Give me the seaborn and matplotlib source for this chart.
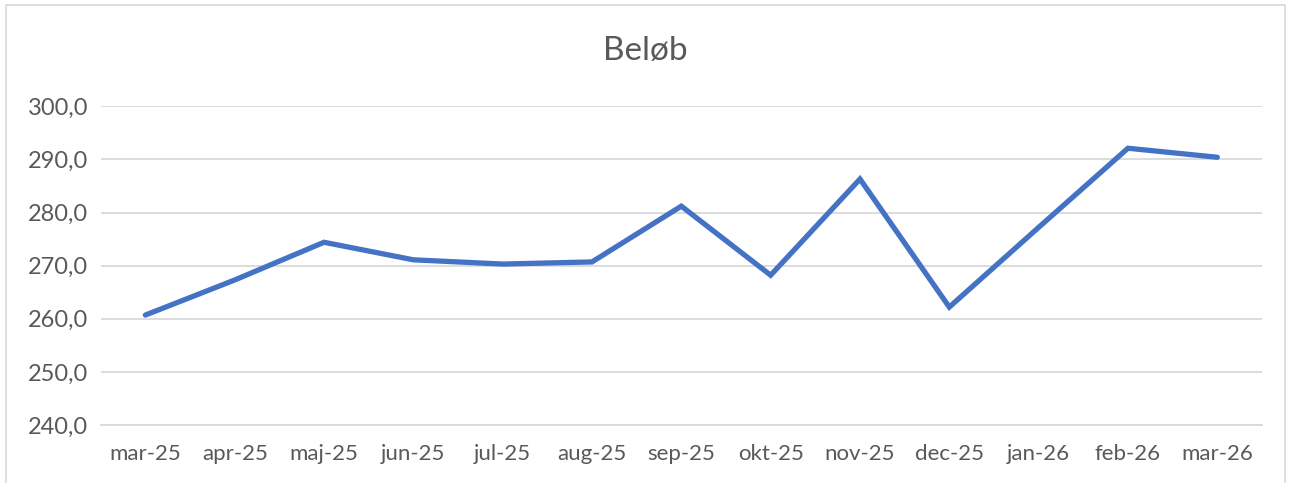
import matplotlib
matplotlib.use("Agg")
import matplotlib.pyplot as plt
import matplotlib.ticker as mticker
import seaborn as sns
import pandas as pd

# Data
months = ['mar-25', 'apr-25', 'maj-25', 'jun-25', 'jul-25', 'aug-25', 'sep-25',
          'okt-25', 'nov-25', 'dec-25', 'jan-26', 'feb-26', 'mar-26']
amounts = [260.7, 267.3, 274.4, 271.1, 270.3, 270.7, 281.2,
           268.2, 286.3, 262.2, 277.2, 292.1, 290.4]

df = pd.DataFrame({'month': months, 'amount': amounts, 'pos': range(len(months))})

sns.set_style('white')
plt.rcParams['font.family'] = ['Lato', 'DejaVu Sans']
grey = '#595959'

fig = plt.figure(figsize=(12.91, 4.83), dpi=100)
ax = fig.add_axes([0.078, 0.12, 0.8995, 0.66])

sns.lineplot(data=df, x='pos', y='amount', ax=ax, color='#4472C4', linewidth=3.8,
             solid_capstyle='round', solid_joinstyle='miter')

ax.set_ylim(240, 300)
ax.set_xlim(-0.5, len(months) - 0.5)
ax.yaxis.set_major_locator(mticker.MultipleLocator(10))
ax.yaxis.set_major_formatter(mticker.FuncFormatter(lambda v, p: f'{v:.1f}'.replace('.', ',')))
ax.grid(axis='y', color='#D9D9D9', linewidth=1.3)
ax.set_axisbelow(True)

ax.set_xticks(range(len(months)))
ax.set_xticklabels(months)
ax.set_xticks([i - 0.5 for i in range(len(months) + 1)], minor=True)
ax.tick_params(axis='x', which='major', length=0, pad=14, labelsize=16, labelcolor=grey)
ax.tick_params(axis='x', which='minor', length=6, color='#D9D9D9', width=1.3, direction='out')
ax.tick_params(axis='y', length=0, pad=9, labelsize=17, labelcolor=grey)

for s in ['top', 'right', 'left']:
    ax.spines[s].set_visible(False)
ax.spines['bottom'].set_color('#D9D9D9')
ax.spines['bottom'].set_linewidth(1.3)

ax.set_xlabel('')
ax.set_ylabel('')
fig.text(0.5, 0.895, 'Beløb', ha='center', va='center', fontsize=24, color=grey)

# outer chart border
fig.patches.append(plt.Rectangle((0.005, -0.05), 0.99, 1.04, transform=fig.transFigure,
                                 fill=False, edgecolor='#D9D9D9', linewidth=1.2))

fig.savefig('out.png', dpi=100)
